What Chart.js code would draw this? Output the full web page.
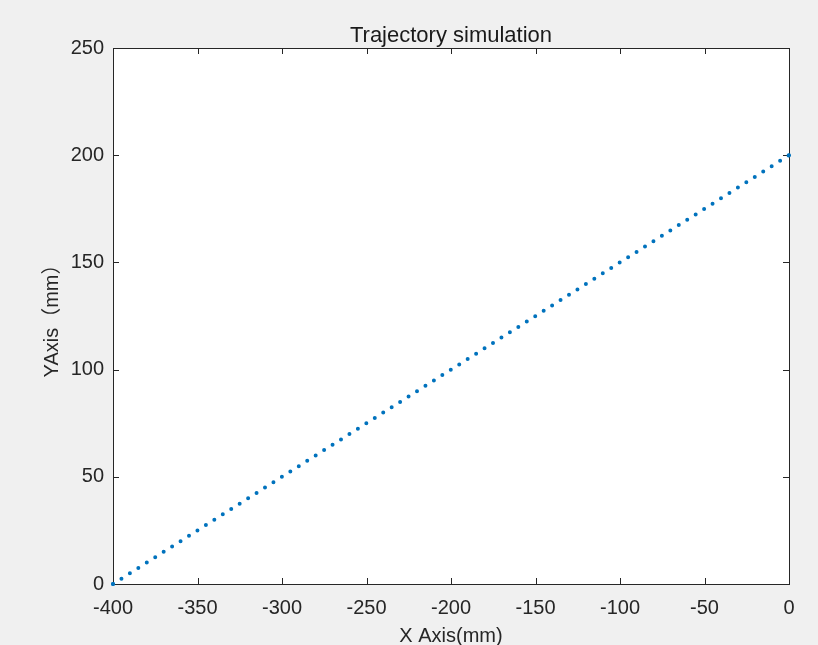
<!DOCTYPE html>
<html>
<head>
<meta charset="utf-8">
<script src="https://cdn.jsdelivr.net/npm/chart.js@4"></script>
<style>
  html, body { margin: 0; padding: 0; background: #f0f0f0; }
  #wrap { width: 818px; height: 645px; position: relative; }
</style>
</head>
<body>
<div id="wrap"><canvas id="traj"></canvas></div>
<script>
// trajectory: start and end of the straight path (mm)
const trajX = [-400, 0];
const trajY = [0, 200];

const xLimits = [-400, 0];
const yLimits = [0, 250];
const xTickStep = 50;
const yTickStep = 50;

const titleText = 'Trajectory simulation';
const axisColor = '#262626';
const lineColor = '#0072bd';
const fontFamily = '"Liberation Sans", Arial, "Noto Sans CJK SC", sans-serif';

// white plot area + box with inward ticks on all four sides (matlab look)
const boxPlugin = {
    id: 'box',
    beforeDraw(chart) {
        const a = chart.chartArea;
        const ctx = chart.ctx;
        ctx.save();
        ctx.fillStyle = '#ffffff';
        ctx.fillRect(a.left, a.top, a.right - a.left, a.bottom - a.top);
        ctx.restore();
    },
    beforeDatasetsDraw(chart) {
        const a = chart.chartArea;
        const ctx = chart.ctx;
        const len = 6;
        ctx.save();
        ctx.strokeStyle = axisColor;
        ctx.lineWidth = 1;
        ctx.beginPath();
        chart.scales.x.ticks.forEach(t => {
            const px = Math.round(chart.scales.x.getPixelForValue(t.value)) + 0.5;
            ctx.moveTo(px, a.bottom); ctx.lineTo(px, a.bottom - len);
            ctx.moveTo(px, a.top); ctx.lineTo(px, a.top + len);
        });
        chart.scales.y.ticks.forEach(t => {
            const py = Math.round(chart.scales.y.getPixelForValue(t.value)) + 0.5;
            ctx.moveTo(a.left, py); ctx.lineTo(a.left + len, py);
            ctx.moveTo(a.right, py); ctx.lineTo(a.right - len, py);
        });
        ctx.stroke();
        ctx.strokeRect(Math.round(a.left) + 0.5, Math.round(a.top) + 0.5,
            Math.round(a.right - a.left), Math.round(a.bottom - a.top));
        ctx.restore();
    },
    // title centred over the axes, not the whole canvas
    afterDraw(chart) {
        const a = chart.chartArea;
        const ctx = chart.ctx;
        ctx.save();
        ctx.fillStyle = '#1a1a1a';
        ctx.font = '22px ' + fontFamily;
        ctx.textAlign = 'center';
        ctx.textBaseline = 'alphabetic';
        ctx.fillText(titleText, (a.left + a.right) / 2, a.top - 6);
        ctx.restore();
    }
};

const points = trajX.map((x, i) => ({ x: x, y: trajY[i] }));

new Chart(document.getElementById('traj'), {
    type: 'line',
    data: {
        datasets: [{
            data: points,
            borderColor: lineColor,
            backgroundColor: lineColor,
            borderWidth: 4,
            borderDash: [0, 10],
            borderCapStyle: 'round',
            pointRadius: 2,
            pointBorderWidth: 0,
            fill: false,
            clip: false
        }]
    },
    options: {
        responsive: true,
        maintainAspectRatio: false,
        animation: false,
        layout: {
            padding: { top: 48, right: 29, bottom: 0, left: 0 }
        },
        plugins: {
            legend: { display: false },
            tooltip: { enabled: false },
            title: { display: false }
        },
        scales: {
            x: {
                type: 'linear',
                min: xLimits[0],
                max: xLimits[1],
                grid: { display: false, drawTicks: false },
                border: { display: false },
                ticks: {
                    stepSize: xTickStep,
                    color: axisColor,
                    padding: 12,
                    maxRotation: 0,
                    font: { family: fontFamily, size: 20 }
                },
                title: {
                    display: true,
                    text: 'X Axis(mm)',
                    color: axisColor,
                    font: { family: fontFamily, size: 20, lineHeight: 1 },
                    padding: { top: 0, bottom: -1 }
                },
                afterFit(scale) { scale.height = 61; }
            },
            y: {
                type: 'linear',
                min: yLimits[0],
                max: yLimits[1],
                grid: { display: false, drawTicks: false },
                border: { display: false },
                ticks: {
                    stepSize: yTickStep,
                    color: axisColor,
                    padding: 9,
                    font: { family: fontFamily, size: 20 }
                },
                title: {
                    display: true,
                    text: 'YAxis（mm）',
                    color: axisColor,
                    font: { family: fontFamily, size: 20, lineHeight: 1.2 },
                    padding: { top: 40, bottom: 0 }
                },
                afterFit(scale) { scale.width = 113; }
            }
        }
    },
    plugins: [boxPlugin]
});
</script>
</body>
</html>
